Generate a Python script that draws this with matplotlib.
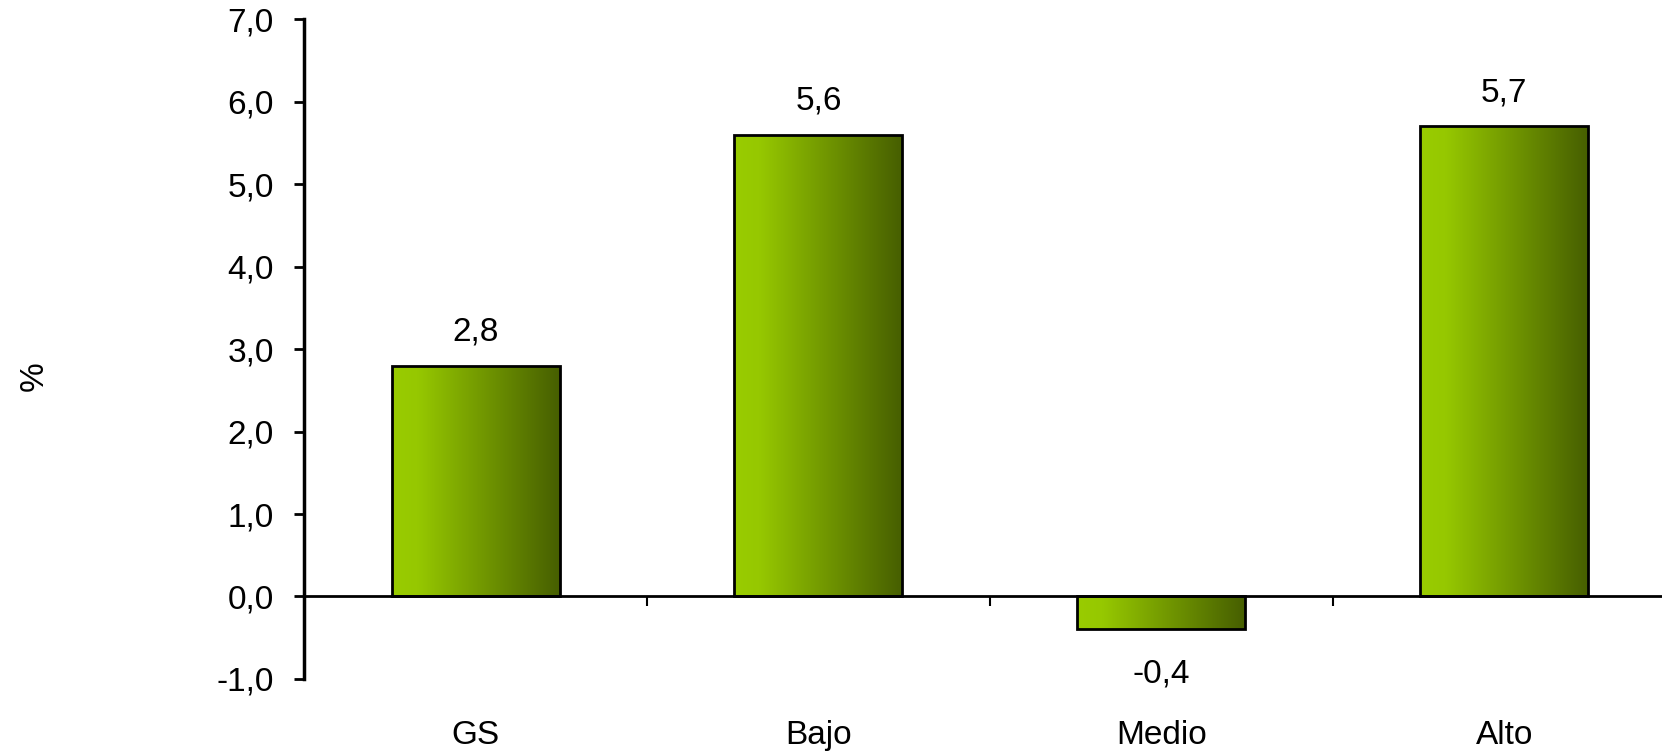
import numpy as np
import matplotlib
matplotlib.use("Agg")
from matplotlib import pyplot as plt
from matplotlib.colors import LinearSegmentedColormap

categorias = ["GS", "Bajo", "Medio", "Alto"]
valores = [2.8, 5.6, -0.4, 5.7]
etiquetas = ["2,8", "5,6", "-0,4", "5,7"]
y_ticks = [-1, 0, 1, 2, 3, 4, 5, 6, 7]
y_labels = ["-1,0", "0,0", "1,0", "2,0", "3,0", "4,0", "5,0", "6,0", "7,0"]

plt.rcParams['font.family'] = ['Liberation Sans', 'DejaVu Sans']

fig = plt.figure(figsize=(16.62, 7.55), dpi=100)
ax = fig.add_axes([0.183, 0.1007, 0.817, 0.874])

# degradado horizontal verde claro -> verde oscuro
cmap = LinearSegmentedColormap.from_list(
    "verde", [(0, "#99CC00"), (0.15, "#96C800"), (1, "#465E00")])
grad = np.linspace(0, 1, 256).reshape(1, -1)

ancho = 0.49
barras = ax.bar(range(len(valores)), valores, width=ancho, color="none",
                edgecolor="black", linewidth=2, zorder=3)
for b in barras:
    x0, y0 = b.get_x(), b.get_y()
    x1, y1 = x0 + b.get_width(), y0 + b.get_height()
    im = ax.imshow(grad, cmap=cmap, aspect="auto", extent=[x0, x1, min(y0, y1), max(y0, y1)],
                   zorder=2)
    im.set_clip_path(b)

ax.set_xlim(-0.5, 3.46)
ax.set_ylim(-1, 7)

ax.spines['top'].set_visible(False)
ax.spines['right'].set_visible(False)
ax.spines['left'].set_linewidth(2.5)
ax.spines['bottom'].set_position(('data', 0))
ax.spines['bottom'].set_linewidth(2)
ax.spines['bottom'].set_zorder(4)

ax.set_yticks(y_ticks)
ax.set_yticklabels(y_labels, fontsize=24)
ax.tick_params(axis='y', length=7, width=2, pad=15)

ax.set_xticks([])
ax.set_xticks([0.5, 1.5, 2.5], minor=True)
ax.tick_params(axis='x', which='minor', length=7, width=1.5, direction='out')

for i, (v, t) in enumerate(zip(valores, etiquetas)):
    off = 24 if v >= 0 else -32
    ax.annotate(t, (i, v), xytext=(0, off), textcoords='offset points',
                ha='center', va='center', fontsize=24)

for i, c in enumerate(categorias):
    ax.annotate(c, (i, -1), xytext=(0, -41), textcoords='offset points',
                ha='center', va='center', fontsize=24, annotation_clip=False)

fig.text(34 / 1662, 1 - 376 / 755, "%", rotation=90, ha='center', va='center', fontsize=24)

fig.savefig("out.png", dpi=100)
